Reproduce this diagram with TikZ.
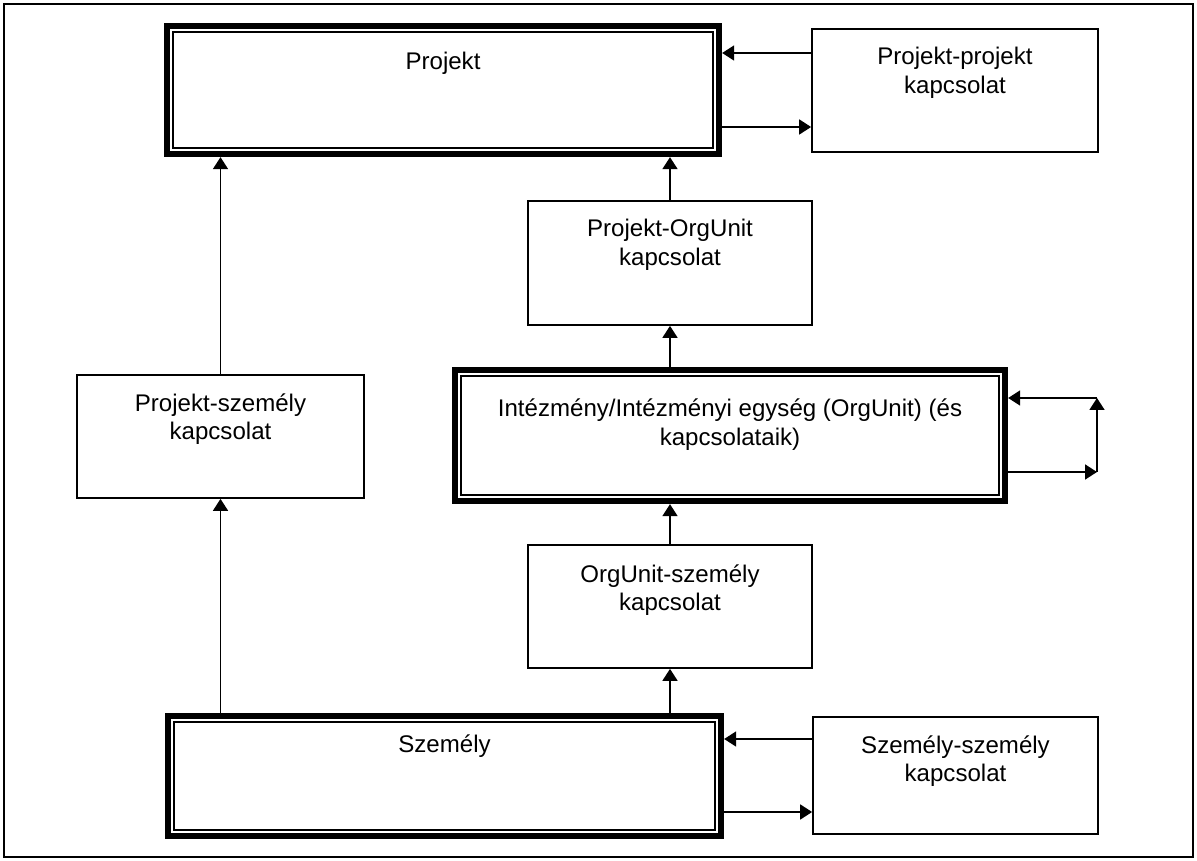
\documentclass[tikz,border=0pt]{standalone}
\usepackage{fontspec}
\setmainfont{Liberation Sans}
\usetikzlibrary{arrows.meta,positioning,fit}

\tikzset{
  box/.style={draw, line width=1pt, inner sep=0pt},
  dbl/.style={draw, line width=3.6pt, inner sep=0pt},
  txt/.style={align=center, inner sep=0pt, font=\fontsize{13.7}{16}\selectfont},
  arr/.style={line width=1pt, -{Triangle[width=0.3cm,length=0.24cm]}}
}

\begin{document}
\begin{tikzpicture}[x=0.02cm,y=-0.02cm]
\useasboundingbox (0,0) rectangle (1197,861);
\draw[line width=1.1pt] (4,4) rectangle (1193,857);

\node[dbl, fit={(167,26) (719,154)}] (prj) {};
\node[box, fit={(812,29) (1098,152)}] (pp) {};
\node[box, fit={(528,201) (812,325)}] (pog) {};
\node[dbl, fit={(455,370) (1005,501)}] (org) {};
\node[box, fit={(77,375) (364,498)}] (psz) {};
\node[box, fit={(528,545) (812,668)}] (osz) {};
\node[dbl, fit={(168,716) (721,836)}] (sze) {};
\node[box, fit={(813,717) (1098,834)}] (ssz) {};
\foreach \n in {prj,org,sze}
  \draw[line width=0.8pt] ([shift={(.18cm,-.18cm)}]\n.north west) rectangle ([shift={(-.18cm,.18cm)}]\n.south east);

\node[txt, below=0.58cm of prj.north] (prjT) {Projekt};
\node[txt, below=0.38cm of pp.north] (ppT) {Projekt-projekt\\kapcsolat};
\node[txt, below=0.38cm of pog.north] (pogT) {Projekt-OrgUnit\\kapcsolat};
\node[txt, below=0.64cm of org.north] (orgT) {Intézmény/Intézményi egység (OrgUnit) (és\\kapcsolataik)};
\node[txt, below=0.38cm of psz.north] (pszT) {Projekt-személy\\kapcsolat};
\node[txt, below=0.4cm of osz.north] (oszT) {OrgUnit-személy\\kapcsolat};
\node[txt, below=0.44cm of sze.north] (szeT) {Személy};
\node[txt, below=0.38cm of ssz.north] (sszT) {Személy-személy\\kapcsolat};

\draw[arr] (psz.north) -- (psz.north |- prj.south);
\draw[arr] (psz.south |- sze.north) -- (psz.south);
\draw[arr] (pog.north) -- (pog.north |- prj.south);
\draw[arr] (pog.south |- org.north) -- (pog.south);
\draw[arr] (osz.north) -- (osz.north |- org.south);
\draw[arr] (osz.south |- sze.north) -- (osz.south);

\coordinate (ppA) at ([yshift=0.75cm]pp.west);
\coordinate (ppB) at ([yshift=-0.73cm]pp.west);
\draw[arr] (ppA) -- (ppA -| prj.east);
\draw[arr] (ppB -| prj.east) -- (ppB);
\coordinate (sszA) at ([yshift=0.73cm]ssz.west);
\coordinate (sszB) at ([yshift=-0.73cm]ssz.west);
\draw[arr] (sszA) -- (sszA -| sze.east);
\draw[arr] (sszB -| sze.east) -- (sszB);

\coordinate (lpA) at (1097,472);
\coordinate (lpB) at (1097,398);
\draw[arr] (org.east |- lpA) -- (lpA);
\draw[arr] (lpA) -- (lpB);
\draw[arr] (lpB) -- (org.east |- lpB);
\end{tikzpicture}
\end{document}
